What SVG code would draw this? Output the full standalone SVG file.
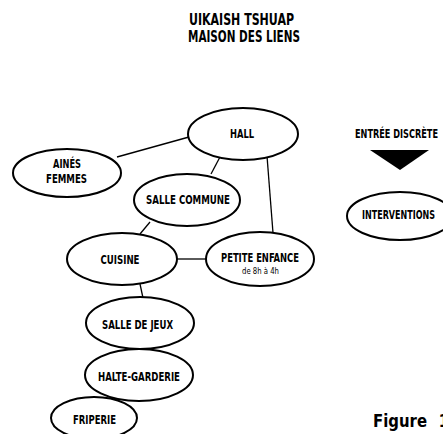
<svg xmlns="http://www.w3.org/2000/svg" width="443" height="434" viewBox="0 0 443 434">
<style>
.n ellipse{fill:#fff;stroke:#000;stroke-width:2}
.t{font-family:"Liberation Sans Narrow","DejaVu Sans Condensed","Liberation Sans",sans-serif;font-weight:bold;fill:#000;text-anchor:middle;font-size:12px}
.s{font-family:"Liberation Sans Narrow","DejaVu Sans Condensed","Liberation Sans",sans-serif;fill:#000;text-anchor:middle;font-size:8.5px}
.big{font-size:15px}
.fig{font-size:18px;text-anchor:start}
.c line{stroke:#000;stroke-width:1.3}
</style>
<rect width="443" height="434" fill="#fff"/>
<g id="title">
<text class="t big" x="241.5" y="25" textLength="105" lengthAdjust="spacingAndGlyphs">UIKAISH TSHUAP</text>
<text class="t big" x="244" y="42" textLength="112" lengthAdjust="spacingAndGlyphs">MAISON DES LIENS</text>
</g>
<g id="connectors" class="c">
<line x1="117" y1="157" x2="189" y2="137"/>
<line x1="220" y1="157" x2="211" y2="174"/>
<line x1="267" y1="156" x2="273" y2="233"/>
<line x1="150" y1="222" x2="140" y2="234"/>
<line x1="177" y1="259" x2="206" y2="259"/>
<line x1="140" y1="284" x2="143" y2="298"/>
</g>
<g id="hall" class="n"><ellipse cx="243" cy="134" rx="55" ry="26"/><text class="t" x="242" y="138" textLength="24" lengthAdjust="spacingAndGlyphs">HALL</text></g>
<g id="aines" class="n"><ellipse cx="67" cy="173" rx="54" ry="24"/><text class="t" x="67" y="168" textLength="28" lengthAdjust="spacingAndGlyphs">AINÉS</text><text class="t" x="66.5" y="183" textLength="41" lengthAdjust="spacingAndGlyphs">FEMMES</text></g>
<g id="salle-commune" class="n"><ellipse cx="187" cy="200" rx="53" ry="26"/><text class="t" x="188" y="204" textLength="84" lengthAdjust="spacingAndGlyphs">SALLE COMMUNE</text></g>
<g id="cuisine" class="n"><ellipse cx="122" cy="259" rx="55" ry="26"/><text class="t" x="120" y="264" textLength="39" lengthAdjust="spacingAndGlyphs">CUISINE</text></g>
<g id="petite-enfance" class="n"><ellipse cx="260" cy="259" rx="54" ry="27"/><text class="t" x="260" y="262" textLength="78" lengthAdjust="spacingAndGlyphs">PETITE ENFANCE</text><text class="s" x="260.5" y="273.5" textLength="37" lengthAdjust="spacingAndGlyphs">de 8h à 4h</text></g>
<g id="salle-de-jeux" class="n"><ellipse cx="140" cy="323" rx="54" ry="26"/><text class="t" x="137.5" y="328.5" textLength="71" lengthAdjust="spacingAndGlyphs">SALLE DE JEUX</text></g>
<g id="halte-garderie" class="n"><ellipse cx="139" cy="375" rx="54" ry="26"/><text class="t" x="139" y="380.5" textLength="82" lengthAdjust="spacingAndGlyphs">HALTE-GARDERIE</text></g>
<g id="friperie" class="n"><ellipse cx="94" cy="418" rx="43" ry="21"/><text class="t" x="94.5" y="423.5" textLength="43" lengthAdjust="spacingAndGlyphs">FRIPERIE</text></g>
<g id="entree"><text class="t" x="396.5" y="137.5" textLength="83" lengthAdjust="spacingAndGlyphs">ENTRÉE DISCRÈTE</text><polygon points="370,150 429,150 400,170" fill="#000"/></g>
<g id="interventions" class="n"><ellipse cx="400" cy="216" rx="53" ry="24"/><text class="t" x="398.5" y="218.5" textLength="73" lengthAdjust="spacingAndGlyphs">INTERVENTIONS</text></g>
<g id="figure"><text class="t fig" x="373" y="427"><tspan textLength="54" lengthAdjust="spacingAndGlyphs">Figure</tspan><tspan x="438.5">1</tspan></text></g>
</svg>
